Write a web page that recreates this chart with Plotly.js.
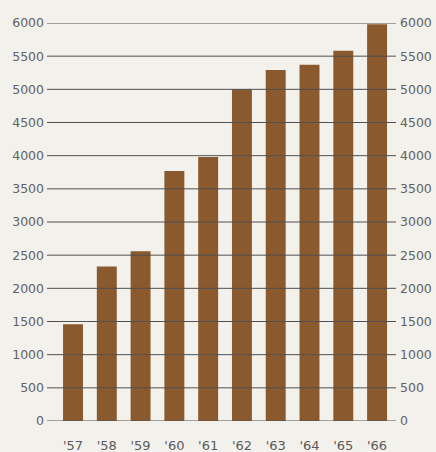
<!DOCTYPE html>
<html>
<head>
<meta charset="utf-8">
<script src="https://cdn.plot.ly/plotly-3.0.1.min.js"></script>
<style>html,body{margin:0;padding:0;background:#f3f1ec;}#chart{width:436px;height:452px;}</style>
</head>
<body>
<div id="chart"></div>
<script>
var years = ["'57", "'58", "'59", "'60", "'61", "'62", "'63", "'64", "'65", "'66"];
var values = [1460, 2330, 2560, 3770, 3980, 5000, 5290, 5370, 5580, 5980];
var tickValues = [0, 500, 1000, 1500, 2000, 2500, 3000, 3500, 4000, 4500, 5000, 5500, 6000];
var tickLabels = ["0", "500", "1000", "1500", "2000", "2500", "3000", "3500", "4000", "4500", "5000", "5500", "6000"];

var font = {family: "DejaVu Sans", size: 12.5, color: "#626262"};
var xfont = {family: "DejaVu Sans", size: 13, color: "#5a5a5a"};
var bar = {
  type: "bar", x: years, y: values,
  marker: {color: "#8a592d", line: {width: 0}},
  hoverinfo: "none"
};
var shapes = tickValues.map(function (v) {
  return {type: "line", xref: "paper", yref: "y", x0: 0, x1: 1, y0: v, y1: v,
          layer: "above", line: {color: "#505050", width: 1}};
});
var layout = {
  width: 436, height: 452,
  margin: {l: 47, r: 40, t: 23, b: 31},
  paper_bgcolor: "#f3f1ec", plot_bgcolor: "#f3f1ec",
  showlegend: false, bargap: 0.41,
  font: font,
  xaxis: {type: "category", range: [-0.77, 9.56], showgrid: false, zeroline: false,
          showline: false, ticks: "", tickfont: xfont, ticklabelstandoff: 15, fixedrange: true},
  yaxis: {range: [0, 6000], tickvals: tickValues, ticktext: tickLabels, showgrid: false,
          zeroline: false, showline: false, ticks: "", tickfont: font, ticklabelstandoff: 2, fixedrange: true},
  yaxis2: {overlaying: "y", side: "right", range: [0, 6000], tickvals: tickValues, ticktext: tickLabels,
           showgrid: false, zeroline: false, showline: false, ticks: "", tickfont: font,
           ticklabelstandoff: 3, fixedrange: true},
  shapes: shapes
};
Plotly.newPlot("chart", [bar, {type: "scatter", x: [years[0]], y: [0], yaxis: "y2", mode: "markers", marker: {opacity: 0}, hoverinfo: "none"}], layout, {staticPlot: true, displayModeBar: false});
</script>
</body>
</html>
